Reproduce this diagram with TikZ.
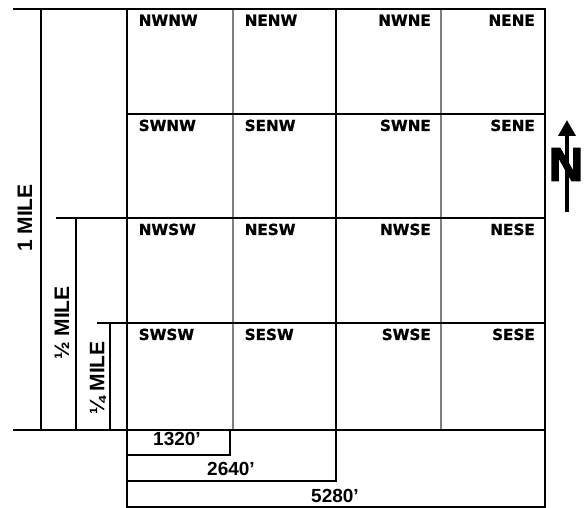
\documentclass[tikz,border=0pt]{standalone}
\usepackage{fontspec}
\setmainfont{DejaVu Sans}
\newfontfamily\dimfont{Liberation Sans}
\newfontfamily\cellfont[FakeBold=1]{DejaVu Sans Bold}
\newfontfamily\northfont[FakeBold=3]{Liberation Sans Bold}
\usetikzlibrary{arrows.meta}

\begin{document}
\begin{tikzpicture}[
  x=1pt, y=-1pt,
  heavy/.style={line width=2.6pt},
  medium/.style={line width=2pt},
  fine/.style={line width=1.2pt, draw=black!50},
  dimline/.style={line width=2.4pt},
  cell/.style={inner sep=0pt, font=\cellfont\fontsize{15.2}{16}\selectfont},
  milelabel/.style={inner sep=0pt, rotate=90, font=\dimfont\fontsize{21}{21}\selectfont\bfseries},
  feetlabel/.style={inner sep=0pt, font=\dimfont\fontsize{19}{19}\selectfont\bfseries}
]
\useasboundingbox (0,0) rectangle (587,508);

% quarter-quarter grid
\draw[fine] (233,9) -- (233,430);
\draw[fine] (441,9) -- (441,430);
\draw[medium] (127,114) -- (545,114);
\draw[medium] (127,323) -- (545,323);
\draw[heavy] (336,9) -- (336,480);
\draw[heavy] (127,218) -- (545,218);
\draw[heavy] (127,9) rectangle (545,430);

\foreach \lab/\x/\y in {NWNW/127/9, NENW/233/9, SWNW/127/114, SENW/233/114,
                        NWSW/127/218, NESW/233/218, SWSW/127/323, SESW/233/323}
  \node[cell, anchor=north west] (\lab) at (\x+11.5,\y+5.5) {\lab};
\foreach \lab/\x/\y in {NWNE/441/9, NENE/545/9, SWNE/441/114, SENE/545/114,
                        NWSE/441/218, NESE/545/218, SWSE/441/323, SESE/545/323}
  \node[cell, anchor=north east] (\lab) at (\x-10,\y+5.5) {\lab};

% mile dimensions on the left
\draw[heavy] (13,9) -- (127,9);
\draw[heavy] (13,430) -- (127,430);
\draw[dimline] (41,9) -- (41,430);
\draw[dimline] (56,218) -- (127,218);
\draw[dimline] (76,218) -- (76,430);
\draw[dimline] (97,323) -- (127,323);
\draw[dimline] (110,323) -- (110,430);
\node[milelabel] (onemile) at (25,218) {1 MILE};
\node[milelabel] (halfmile) at (62,323) {½ MILE};
\node[milelabel] (quartermile) at (98,378) {¼ MILE};

% feet dimensions below
\draw[heavy] (127,430) -- (127,507) -- (545,507) -- (545,430);
\draw[dimline] (127,455) -| (230,430);
\draw[dimline] (127,481) -| (336,430);
\node[feetlabel] (ft1320) at (177,439) {1320’};
\node[feetlabel] (ft2640) at (231,469) {2640’};
\node[feetlabel] (ft5280) at (335,496) {5280’};

% north arrow
\node[inner sep=0pt, font=\northfont\fontsize{47}{47}\selectfont] (north) at (566,164.5) {N};
\coordinate (arrowfoot) at (567,212);
\coordinate (arrowtip) at (567,120);
\draw[line width=3.5pt, -{Triangle[width=17pt,length=16pt]}] (arrowfoot) -- (arrowtip);
\end{tikzpicture}
\end{document}
